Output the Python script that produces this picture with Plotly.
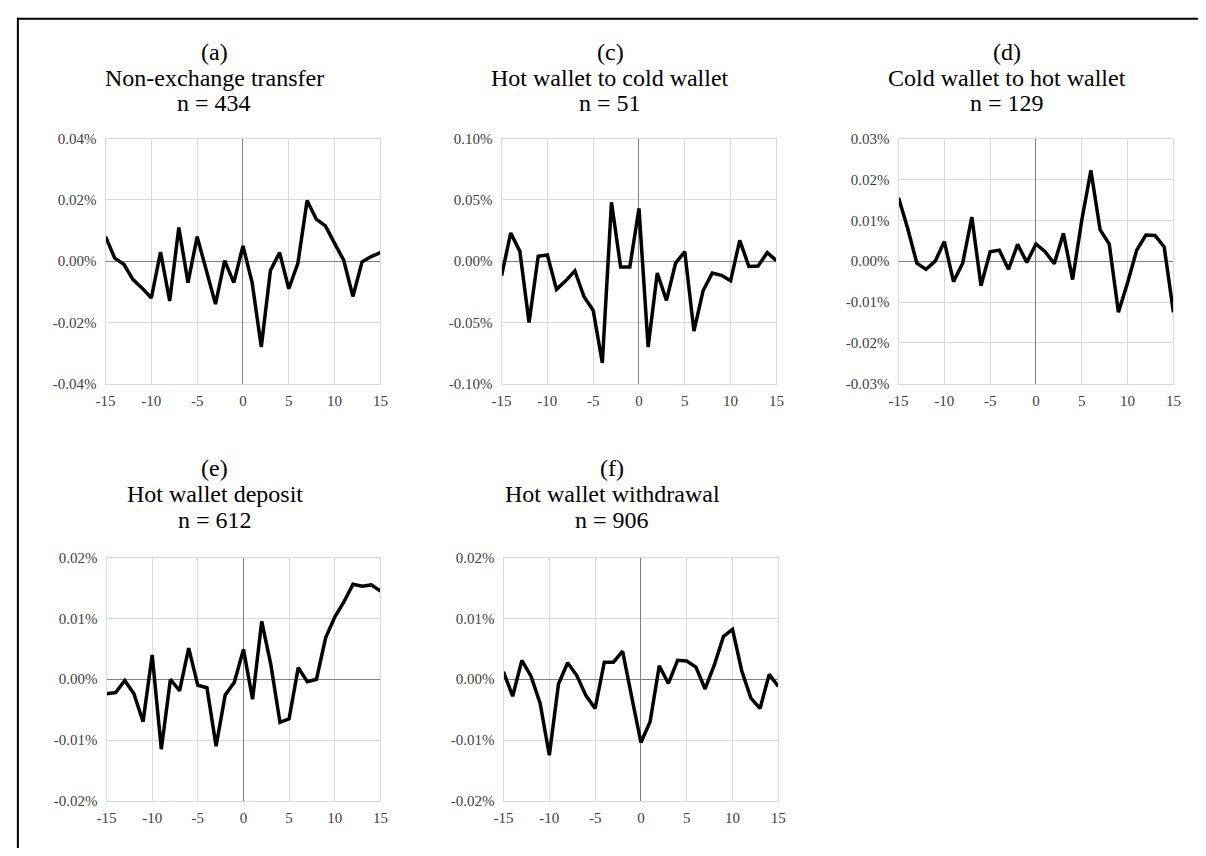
import plotly.graph_objects as go

# ---------------- data ----------------
days = list(range(-15, 16))

panel_letters = ["(a)", "(c)", "(d)", "(e)", "(f)"]
panel_names = ["Non-exchange transfer", "Hot wallet to cold wallet", "Cold wallet to hot wallet",
               "Hot wallet deposit", "Hot wallet withdrawal"]
panel_counts = ["n = 434", "n = 51", "n = 129", "n = 612", "n = 906"]

# values in percent
non_exchange = [0.008, 0.001, -0.001, -0.006, -0.0088, -0.012, 0.003, -0.013, 0.011, -0.007,
                0.008, -0.003, -0.014, 0.0002, -0.007, 0.005, -0.007, -0.028, -0.003, 0.0028,
                -0.009, -0.0006, 0.0198, 0.0137, 0.0115, 0.0058, 0.0003, -0.0115, -0.0002, 0.0015,
                0.0028]
hot_to_cold = [-0.012, 0.023, 0.008, -0.050, 0.004, 0.005, -0.023, -0.016, -0.0078, -0.029,
               -0.040, -0.083, 0.048, -0.0048, -0.0048, 0.043, -0.070, -0.0096, -0.032, -0.0016,
               0.0078, -0.057, -0.024, -0.0096, -0.0115, -0.016, 0.017, -0.0043, -0.004, 0.007,
               0.0005]
cold_to_hot = [0.0155, 0.008, -0.0005, -0.002, 0.0, 0.0048, -0.005, -0.0005, 0.0108, -0.006,
               0.0023, 0.0027, -0.002, 0.0041, -0.0003, 0.0042, 0.0023, -0.0006, 0.0068, -0.0045,
               0.010, 0.0222, 0.0077, 0.0042, -0.0125, -0.0053, 0.0027, 0.0064, 0.0063, 0.0035,
               -0.0125]
hot_deposit = [-0.0024, -0.0022, -0.0002, -0.0024, -0.007, 0.004, -0.0115, 0.0, -0.0019, 0.0051,
               -0.001, -0.0014, -0.011, -0.0026, -0.0005, 0.0049, -0.0033, 0.0095, 0.0024, -0.0071,
               -0.0065, 0.0019, -0.0004, 0.0, 0.0068, 0.0102, 0.0127, 0.0156, 0.0153, 0.0155,
               0.0145]
hot_withdrawal = [0.0012, -0.0028, 0.0031, 0.0005, -0.004, -0.0125, -0.0008, 0.0027, 0.0006, -0.0027,
                  -0.0048, 0.0028, 0.0028, 0.0046, -0.003, -0.0104, -0.007, 0.0022, -0.0007, 0.0031,
                  0.003, 0.002, -0.0016, 0.0023, 0.007, 0.0082, 0.0014, -0.0031, -0.0048, 0.0008,
                  -0.0012]

series = [non_exchange, hot_to_cold, cold_to_hot, hot_deposit, hot_withdrawal]

y_ticks = [
    [-0.04, -0.02, 0.0, 0.02, 0.04],
    [-0.10, -0.05, 0.0, 0.05, 0.10],
    [-0.03, -0.02, -0.01, 0.0, 0.01, 0.02, 0.03],
    [-0.02, -0.01, 0.0, 0.01, 0.02],
    [-0.02, -0.01, 0.0, 0.01, 0.02],
]
x_ticks = [-15, -10, -5, 0, 5, 10, 15]

# ---------------- layout geometry (pixels) ----------------
W, H = 1206, 856
boxes = [  # left, right, top, bottom
    (97, 376, 133, 383),
    (499, 778, 133, 383),
    (902, 1181, 133, 383),
    (98, 376, 560, 808),
    (501, 780, 560, 808),
]
title_offset = -29
title_rows_top = [45, 71, 97]
title_rows_bottom = [469, 495, 522]

FONT = "Liberation Serif, Times New Roman, serif"
GRID = "#d9d9d9"
ZERO = "#808080"
TICKCOL = "#404040"

fig = go.Figure()
layout = dict(
    width=W, height=H,
    margin=dict(l=0, r=0, t=0, b=0),
    paper_bgcolor="white", plot_bgcolor="white",
    showlegend=False,
    font=dict(family=FONT, color="black"),
    annotations=[], shapes=[],
)

for i, (vals, yt, box) in enumerate(zip(series, y_ticks, boxes)):
    k = "" if i == 0 else str(i + 1)
    fig.add_trace(go.Scatter(x=days, y=vals, mode="lines",
                             line=dict(color="black", width=3.5),
                             xaxis="x" + k, yaxis="y" + k, hoverinfo="skip"))
    l, r, t, b = box
    layout["xaxis" + k] = dict(
        domain=[l / W, r / W], anchor="y" + k, range=[-15, 15],
        tickmode="array", tickvals=x_ticks, ticktext=[str(v) for v in x_ticks],
        showgrid=True, gridcolor=GRID, gridwidth=1,
        zeroline=True, zerolinecolor=ZERO, zerolinewidth=1,
        showline=True, linecolor=GRID, linewidth=1, mirror=True,
        ticks="", ticklabelstandoff=3,
        tickfont=dict(family=FONT, size=15, color=TICKCOL),
        fixedrange=True,
    )
    layout["yaxis" + k] = dict(
        domain=[1 - b / H, 1 - t / H], anchor="x" + k, range=[yt[0], yt[-1]],
        tickmode="array", tickvals=yt, ticktext=[f"{v:.2f}%" for v in yt],
        showgrid=True, gridcolor=GRID, gridwidth=1,
        zeroline=True, zerolinecolor=ZERO, zerolinewidth=1,
        showline=True, linecolor=GRID, linewidth=1, mirror=True,
        ticks="", ticklabelstandoff=5,
        tickfont=dict(family=FONT, size=15, color=TICKCOL),
        fixedrange=True,
    )
    cx = (l + r) / 2 + title_offset
    rows = title_rows_top if i < 3 else title_rows_bottom
    for txt, ry in zip([panel_letters[i], panel_names[i], panel_counts[i]], rows):
        layout["annotations"].append(dict(
            text=txt, xref="paper", yref="paper", x=cx / W, y=1 - ry / H,
            xanchor="center", yanchor="middle", showarrow=False,
            font=dict(family=FONT, size=24, color="black"),
        ))

# outer frame (top and left edges)
layout["shapes"].append(dict(type="line", xref="paper", yref="paper",
                             x0=7 / W, x1=1.0, y0=1 - 11 / H, y1=1 - 11 / H,
                             line=dict(color="black", width=2)))
layout["shapes"].append(dict(type="line", xref="paper", yref="paper",
                             x0=8 / W, x1=8 / W, y0=0.0, y1=1 - 10 / H,
                             line=dict(color="black", width=2)))

fig.update_layout(**layout)
fig.write_html("out.html",
               config={"displayModeBar": False, "staticPlot": True},
               post_script="document.body.style.margin='0';document.body.style.overflow='hidden';")
